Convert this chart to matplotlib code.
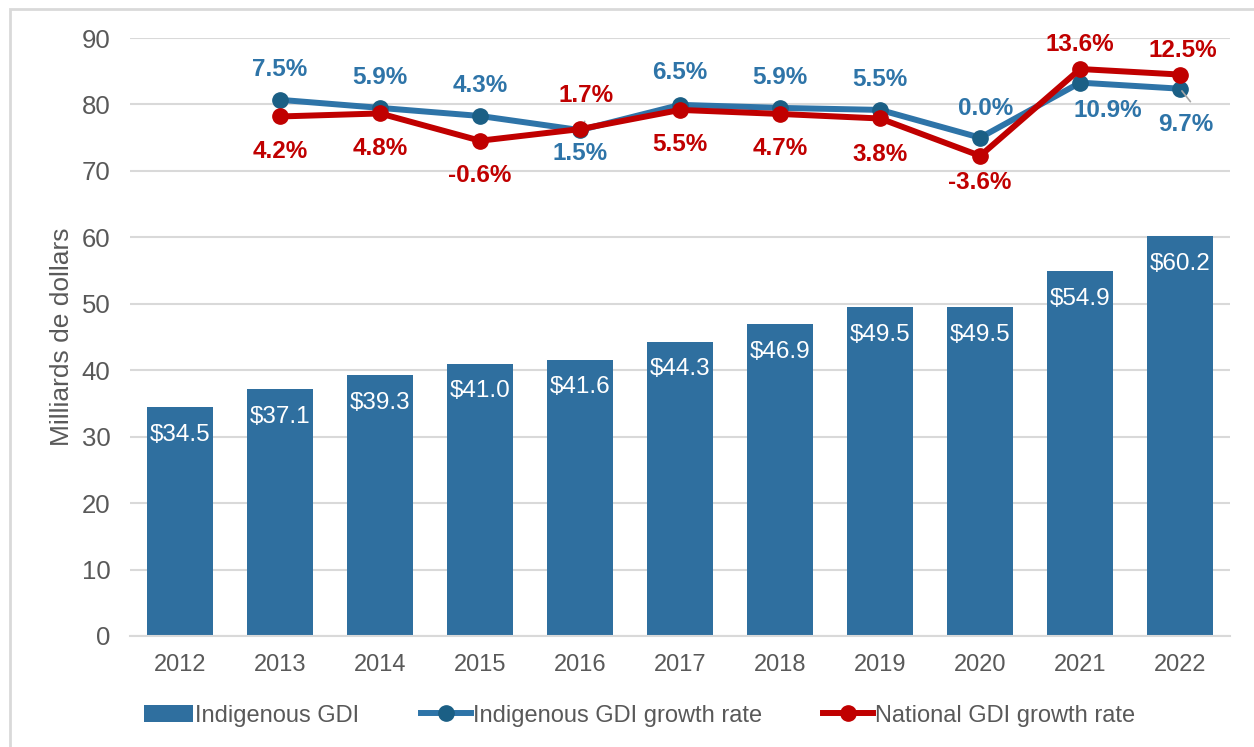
"""
Indigenous GDI (bars) with Indigenous and national GDI growth rates (lines).
Output: out.png
"""
import matplotlib.pyplot as plt
import matplotlib as mpl
from matplotlib.patches import Rectangle

# -- Style ---------------------------------------------------------------------
mpl.rcParams.update({
    'font.family': ['Liberation Sans', 'DejaVu Sans'],
    'axes.labelsize': 19,
    'xtick.labelsize': 17,
    'ytick.labelsize': 18.5,
})

# -- Data ----------------------------------------------------------------------
years = ['2012', '2013', '2014', '2015', '2016', '2017',
         '2018', '2019', '2020', '2021', '2022']
gdi = [34.5, 37.1, 39.3, 41.0, 41.6, 44.3, 46.9, 49.5, 49.5, 54.9, 60.2]

rate_years = years[1:]
indig_rate = [7.5, 5.9, 4.3, 1.5, 6.5, 5.9, 5.5, 0.0, 10.9, 9.7]
natl_rate = [4.2, 4.8, -0.6, 1.7, 5.5, 4.7, 3.8, -3.6, 13.6, 12.5]

# label offsets (points) for each rate label
indig_off = [(0, 22), (0, 22), (0, 22), (0, -17), (0, 23), (0, 22), (0, 22),
             (4, 21), (20, -20), (4, -26)]
natl_off = [(0, -25), (0, -25), (0, -25), (4, 24), (0, -25), (0, -25),
            (0, -26), (0, -19), (0, 18), (2, 17)]

# -- Colours -------------------------------------------------------------------
bar_col = '#2F6F9F'
blue_line = '#2E74A8'
blue_mark = '#1B5F85'
red = '#C00000'
grey_txt = '#595959'

# -- Figure --------------------------------------------------------------------
fig = plt.figure(figsize=(12.54, 7.47), dpi=100)
ax = fig.add_axes([0.1037, 0.1486, 0.8773, 0.8005])
x = list(range(len(years)))

bars = ax.bar(x, gdi, width=0.66, color=bar_col, label='Indigenous GDI', zorder=2)
for xi, v in zip(x, gdi):
    ax.annotate(f'${v:.1f}', (xi, v), xytext=(0, -20), textcoords='offset points',
                ha='center', va='center', color='white', fontsize=17.5, zorder=3)

ax.set_ylim(0, 90)
ax.set_xlim(-0.5, len(years) - 0.5)
ax.set_yticks(range(0, 91, 10))
ax.set_xticks(x)
ax.set_xticklabels(years)
ax.grid(axis='y', color='#D9D9D9', linewidth=1.5, zorder=0)
ax.set_axisbelow(True)
for s in ['top', 'right', 'left']:
    ax.spines[s].set_visible(False)
ax.spines['bottom'].set_color('#D9D9D9')
ax.spines['bottom'].set_linewidth(1.5)
ax.tick_params(length=0, colors=grey_txt, pad=14)
ax.tick_params(axis='x', pad=13)
ax.set_ylabel('Milliards de dollars', color=grey_txt, labelpad=6)

# hidden secondary axis for growth rates: 0% sits at 75, 1% = 0.76 units
ax2 = ax.twinx()
ax2.set_ylim((0 - 75) / 0.76, (90 - 75) / 0.76)
ax2.axis('off')
xr = x[1:]
ax2.plot(xr, indig_rate, color=blue_line, lw=4.3, marker='o', ms=11,
         mfc=blue_mark, mec=blue_mark, label='Indigenous GDI growth rate', zorder=3)
ax2.plot(xr, natl_rate, color=red, lw=4.3, marker='o', ms=11,
         mfc=red, mec=red, label='National GDI growth rate', zorder=4)

for xi, v, off in zip(xr, indig_rate, indig_off):
    ax2.annotate(f'{v:.1f}%', (xi, v), xytext=off, textcoords='offset points',
                 ha='center', va='center', color=blue_line, fontsize=17.5,
                 fontweight='bold')
for xi, v, off in zip(xr, natl_rate, natl_off):
    ax2.annotate(f'{v:.1f}%', (xi, v), xytext=off, textcoords='offset points',
                 ha='center', va='center', color=red, fontsize=17.5,
                 fontweight='bold')

# leader lines (1.7% and 9.7%)
ax2.annotate('', (xr[3], natl_rate[3]), xytext=(xr[3] + 0.06, natl_rate[3] + 2.0),
             arrowprops=dict(arrowstyle='-', color='#A6A6A6', lw=1.2))
ax2.annotate('', (xr[9], indig_rate[9]), xytext=(xr[9] + 0.12, indig_rate[9] - 3.0),
             arrowprops=dict(arrowstyle='-', color='#A6A6A6', lw=1.2))

# legend
h1, l1 = ax.get_legend_handles_labels()
h2, l2 = ax2.get_legend_handles_labels()
fig.legend(h1 + h2, l1 + l2, loc='center', bbox_to_anchor=(0.51, 0.042), ncol=3,
           frameon=False, fontsize=17, handlelength=2.1, handletextpad=0.1,
           columnspacing=2.6, labelcolor=grey_txt)

# outer frame
fig.patches.append(Rectangle((0.008, -0.01), 0.995, 0.998, transform=fig.transFigure,
                             fill=False, edgecolor='#D9D9D9', lw=2.0))

fig.savefig('out.png', dpi=100)
